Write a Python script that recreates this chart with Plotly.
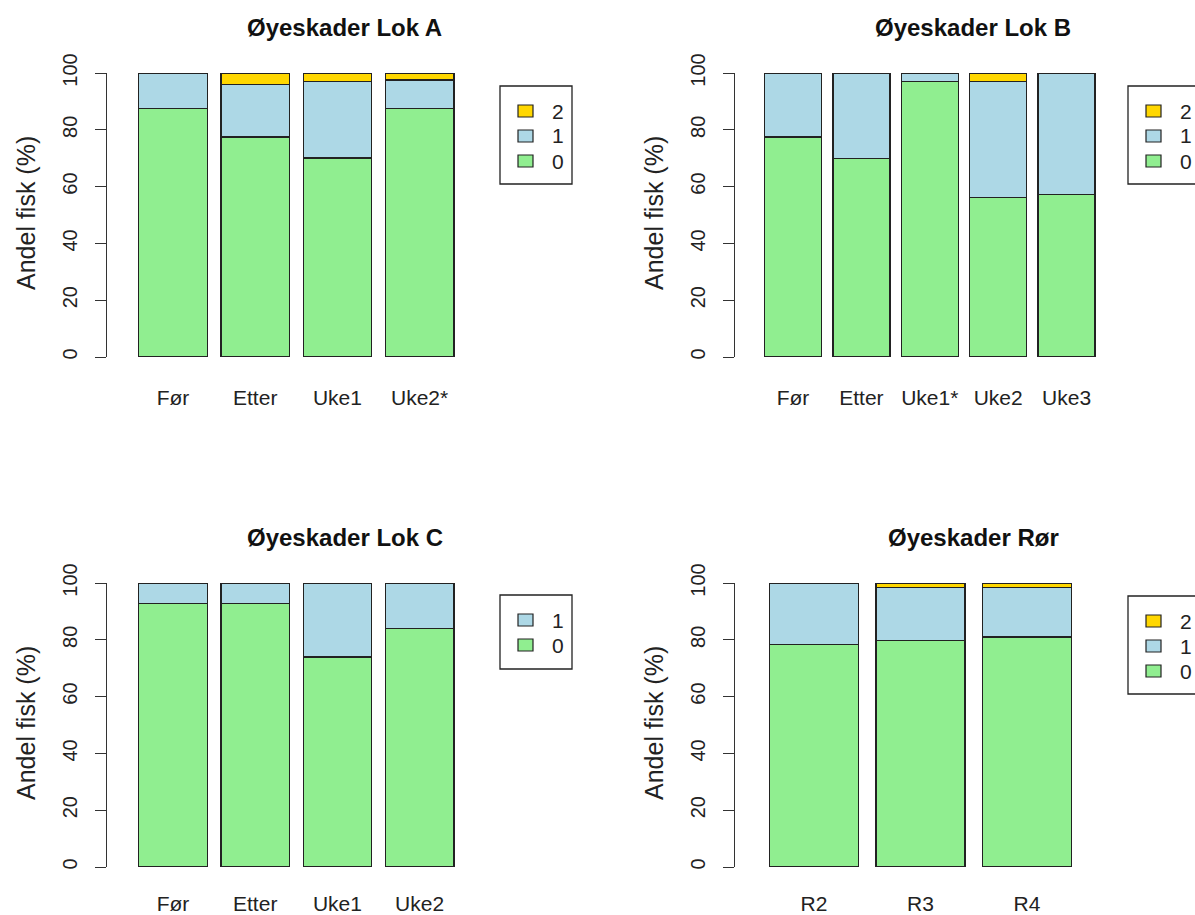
import plotly.graph_objects as go

# ---------------- data ----------------
titles = ["Øyeskader Lok A", "Øyeskader Lok B", "Øyeskader Lok C", "Øyeskader Rør"]

cats_A = ["Før", "Etter", "Uke1", "Uke2*"]
A_0 = [87.5, 77.5, 70.1, 87.6]
A_1 = [12.5, 18.5, 27.0, 9.9]
A_2 = [0.0, 4.0, 2.9, 2.5]

cats_B = ["Før", "Etter", "Uke1*", "Uke2", "Uke3"]
B_0 = [77.5, 70.0, 97.1, 56.2, 57.1]
B_1 = [22.5, 30.0, 2.9, 40.9, 42.9]
B_2 = [0.0, 0.0, 0.0, 2.9, 0.0]

cats_C = ["Før", "Etter", "Uke1", "Uke2"]
C_0 = [92.7, 92.7, 73.9, 84.0]
C_1 = [7.3, 7.3, 26.1, 16.0]

cats_D = ["R2", "R3", "R4"]
D_0 = [78.3, 79.8, 81.0]
D_1 = [21.7, 18.5, 17.3]
D_2 = [0.0, 1.7, 1.7]

y_ticks = [0, 20, 40, 60, 80, 100]
y_label = "Andel fisk (%)"
level_names = ["0", "1", "2"]
level_colors = ["#90EE90", "#ADD8E6", "#FFD700"]

# ---------------- layout geometry (pixels) ----------------
W, H = 1195, 915
FONT = "Liberation Sans, Arial, sans-serif"

panels = [
    dict(cats=cats_A, series=[A_0, A_1, A_2], axl=107, c0=173, step=82.2, y0=357, y100=73,
         tx=345, ty=28, lx=500, ly=86, lh=98, xstand=26),
    dict(cats=cats_B, series=[B_0, B_1, B_2], axl=735, c0=793, step=68.4, y0=357, y100=73,
         tx=973, ty=28, lx=1128, ly=86, lh=98, xstand=26),
    dict(cats=cats_C, series=[C_0, C_1], axl=107, c0=173, step=82.2, y0=867, y100=583,
         tx=345, ty=537, lx=500, ly=595, lh=74, xstand=22),
    dict(cats=cats_D, series=[D_0, D_1, D_2], axl=735, c0=814, step=106.5, y0=867, y100=583,
         tx=973, ty=537, lx=1128, ly=596, lh=98, xstand=22),
]

fig = go.Figure()
annotations = []
shapes = []

for i, p in enumerate(panels):
    k = "" if i == 0 else str(i + 1)
    xa, ya = "x" + k, "y" + k
    for lvl, vals in enumerate(p["series"]):
        fig.add_trace(go.Bar(
            x=p["cats"], y=vals, name=level_names[lvl], xaxis=xa, yaxis=ya,
            marker=dict(color=level_colors[lvl], line=dict(color="#222222", width=1.3)),
            showlegend=False, hoverinfo="skip",
        ))
    right = p["axl"] + 420
    fig.layout["xaxis" + k] = dict(
        domain=[p["axl"] / W, right / W],
        range=[-(p["c0"] - p["axl"]) / p["step"], (right - p["c0"]) / p["step"]],
        type="category", categoryorder="array", categoryarray=p["cats"],
        showline=False, ticks="", showgrid=False, zeroline=False,
        tickfont=dict(family=FONT, size=21, color="#222"),
        ticklabelstandoff=p["xstand"], anchor=ya, fixedrange=True, automargin=False,
    )
    fig.layout["yaxis" + k] = dict(
        domain=[1 - p["y0"] / H, 1 - p["y100"] / H],
        range=[0, 100], tickvals=y_ticks, ticks="outside", ticklen=11, tickwidth=1.2,
        tickcolor="#333", showline=True, linecolor="#333", linewidth=1.2,
        showgrid=False, zeroline=False, tickangle=-90,
        tickfont=dict(family=FONT, size=20, color="#222"),
        ticklabelstandoff=10, anchor=xa, fixedrange=True, automargin=False,
    )
    # title
    annotations.append(dict(x=p["tx"] / W, y=1 - p["ty"] / H, xref="paper", yref="paper",
                            text="<b>" + titles[i] + "</b>", showarrow=False,
                            font=dict(family=FONT, size=24, color="#111"),
                            xanchor="center", yanchor="middle"))
    # y-axis title
    annotations.append(dict(x=(p["axl"] - 81) / W, y=1 - ((p["y0"] + p["y100"]) / 2 - 2) / H,
                            xref="paper", yref="paper", text=y_label, textangle=-90,
                            showarrow=False, font=dict(family=FONT, size=25, color="#222"),
                            xanchor="center", yanchor="middle"))
    # legend box
    lx, ly, lh = p["lx"], p["ly"], p["lh"]
    shapes.append(dict(type="rect", xref="paper", yref="paper",
                       x0=lx / W, x1=(lx + 72) / W, y0=1 - ly / H, y1=1 - (ly + lh) / H,
                       line=dict(color="#222", width=1.3), fillcolor="rgba(0,0,0,0)"))
    n = len(p["series"])
    for r in range(n):
        lvl = n - 1 - r
        cy = ly + 25 + 25 * r
        shapes.append(dict(type="rect", xref="paper", yref="paper",
                           x0=(lx + 18) / W, x1=(lx + 33) / W,
                           y0=1 - (cy - 6) / H, y1=1 - (cy + 6) / H,
                           line=dict(color="#222", width=1.2), fillcolor=level_colors[lvl]))
        annotations.append(dict(x=(lx + 50) / W, y=1 - cy / H, xref="paper", yref="paper",
                                text=level_names[lvl], showarrow=False,
                                font=dict(family=FONT, size=21, color="#222"),
                                xanchor="left", yanchor="middle"))

fig.update_layout(
    width=W, height=H, margin=dict(l=0, r=0, t=0, b=0, autoexpand=False),
    paper_bgcolor="white", plot_bgcolor="white",
    barmode="stack", bargap=1 / 6,
    annotations=annotations, shapes=shapes,
    font=dict(family=FONT), showlegend=False,
)

fig.write_html(
    "out.html",
    config={"displayModeBar": False},
    post_script=(
        "document.body.style.margin='0';"
        "var gd=document.getElementById('{plot_id}');"
        "gd.style.position='absolute';gd.style.left='0px';gd.style.top='0px';"
    ),
)
